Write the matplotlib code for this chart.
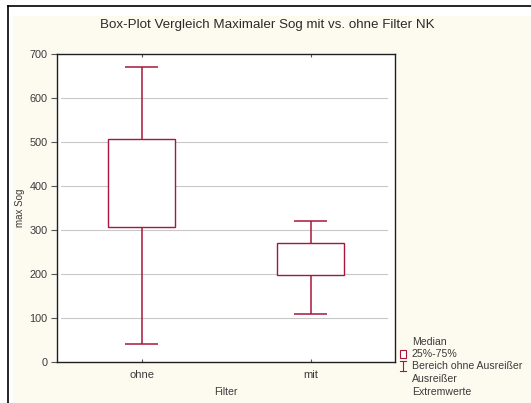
import matplotlib
matplotlib.use("Agg")
import matplotlib.pyplot as plt
from matplotlib.patches import Rectangle
from matplotlib.lines import Line2D

plt.rcParams['font.family'] = ['Liberation Sans', 'DejaVu Sans']

# Filter groups and their box-plot statistics (max Sog)
groups = ["ohne", "mit"]
whisker_low = [40, 109]
q25 = [306, 197]
q75 = [506, 270]
whisker_high = [670, 321]

yticks = [0, 100, 200, 300, 400, 500, 600, 700]

red = '#a8173a'
txt = '#3a3a3a'

W, H = 531, 403
fig = plt.figure(figsize=(W / 100, H / 100), dpi=100)
fig.patch.set_facecolor('white')

# cream panel with a thin black frame on the left and top
fig.add_artist(Rectangle((13 / W, 0), 1, 1 - 16 / H, transform=fig.transFigure,
                         facecolor='#fdfbf0', edgecolor='none', zorder=-5))
fig.add_artist(Line2D([8 / W, 8 / W], [0, 1 - 6 / H], transform=fig.transFigure,
                      color='black', lw=1.2))
fig.add_artist(Line2D([8 / W, 1], [1 - 6 / H, 1 - 6 / H], transform=fig.transFigure,
                      color='black', lw=1.2))

ax = fig.add_axes([57 / W, 41 / H, 338 / W, 308 / H])
ax.set_facecolor('white')

pos = list(range(1, len(groups) + 1))
box_w = 0.40
cap_w = 0.20
for x, lo, b, t, hi in zip(pos, whisker_low, q25, q75, whisker_high):
    ax.vlines(x, lo, b, color=red, lw=1.1, zorder=3)
    ax.vlines(x, t, hi, color=red, lw=1.1, zorder=3)
    ax.hlines([lo, hi], x - cap_w / 2, x + cap_w / 2, color=red, lw=1.1, zorder=3)
    ax.add_patch(Rectangle((x - box_w / 2, b), box_w, t - b, facecolor='white',
                           edgecolor=red, lw=1.0, zorder=3))

for y in yticks[1:-1]:
    ax.axhline(y, xmin=0.012, xmax=0.975, color='#c8c8c8', lw=0.8, zorder=1)

ax.set_xlim(0.5, 2.5)
ax.set_ylim(0, 700)
ax.set_yticks(yticks)
ax.set_xticks(pos)
ax.set_xticklabels(groups)

for s in ax.spines.values():
    s.set_color('#202020')
    s.set_linewidth(1.0)

ax.tick_params(axis='y', direction='out', length=4, width=0.8, colors='#555555',
               labelcolor=txt, labelsize=7.8, pad=3)
ax.tick_params(axis='x', direction='in', length=2.5, width=0.8, top=True,
               colors='#555555', labelcolor=txt, labelsize=8, pad=6)

ax.set_ylabel('max Sog', fontsize=7, color=txt)
ax.yaxis.set_label_coords(-32 / 338, 0.5)
ax.set_xlabel('Filter', fontsize=7.6, color=txt, labelpad=5)

fig.text(0.503, 1 - 25 / H, 'Box-Plot Vergleich Maximaler Sog mit vs. ohne Filter NK',
         ha='center', va='center', fontsize=9.6, color='#2a2a2a')

# legend block at the lower right
leg_x = 412 / W
leg_rows = [(342, 'Median'), (354, '25%-75%'), (366, 'Bereich ohne Ausreißer'),
            (379, 'Ausreißer'), (392, 'Extremwerte')]
for yy, label in leg_rows:
    fig.text(leg_x, 1 - yy / H, label, ha='left', va='center', fontsize=7.6, color=txt)

fig.add_artist(Rectangle((400 / W, 1 - 358 / H), 6 / W, 8 / H, transform=fig.transFigure,
                         facecolor='white', edgecolor=red, lw=0.8))
wx = 403 / W
fig.add_artist(Line2D([wx, wx], [1 - 371 / H, 1 - 361 / H], transform=fig.transFigure,
                      color=red, lw=0.8))
fig.add_artist(Line2D([wx - 3 / W, wx + 3 / W], [1 - 361 / H, 1 - 361 / H],
                      transform=fig.transFigure, color=red, lw=0.8))
fig.add_artist(Line2D([wx - 3 / W, wx + 3 / W], [1 - 371 / H, 1 - 371 / H],
                      transform=fig.transFigure, color=red, lw=0.8))

fig.savefig('out.png', dpi=100)
